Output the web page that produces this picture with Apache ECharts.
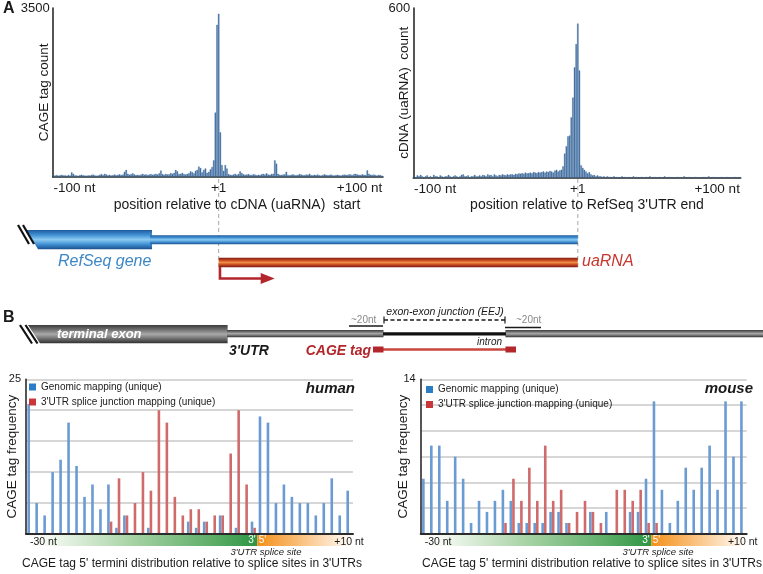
<!DOCTYPE html>
<html><head><meta charset="utf-8">
<script src="https://cdn.jsdelivr.net/npm/echarts@6/dist/echarts.min.js"></script>
<style>html,body{margin:0;padding:0;background:#fff}#c{width:763px;height:574px}</style>
</head><body><div id="c"></div>
<script>
const FONT = 'Liberation Sans, Arial, Helvetica, sans-serif';

// ---------- Panel A data ----------
// positions -100..-1, +1..+100 (200 bins)
const positionsA = [];
for (let p = -100; p <= 100; p++) if (p !== 0) positionsA.push((p > 0 ? '+' : '') + p);
const tickLabelsA = { '-100': '-100 nt', '+1': '+1', '+100': '+100 nt' };

const cageTagCount = [
  30,25,35,20,30,40,25,30,20,35,
  25,90,60,30,25,20,35,40,30,25,
  20,30,25,35,45,30,20,25,40,55,
  35,60,45,30,40,25,35,45,30,40,
  50,35,45,100,140,60,40,55,70,45,
  35,40,30,45,60,40,50,35,45,55,
  40,50,60,45,70,125,55,40,60,45,
  50,75,60,80,140,110,55,60,80,55,
  45,60,70,110,95,70,120,140,210,180,
  90,140,170,80,100,150,200,340,1330,3150,
  3380,920,240,120,240,170,55,40,35,45,
  60,40,55,110,75,50,40,45,55,40,
  35,50,45,30,40,35,50,60,45,70,
  45,40,55,60,340,270,60,40,35,45,
  50,100,35,30,40,50,35,30,40,55,
  45,35,30,45,40,60,35,30,40,35,
  45,30,25,35,50,40,30,35,45,30,
  25,35,40,30,25,35,45,40,35,50,
  45,30,55,60,45,40,35,50,40,35,
  130,60,40,35,45,30,25,40,30,20
];
const cdnaCount = [
  5,0,8,5,10,5,0,5,8,0,
  5,0,10,5,5,0,8,5,0,5,
  5,10,5,0,5,8,5,0,5,10,
  12,5,5,8,0,5,5,10,5,5,
  8,5,10,8,5,12,8,10,5,12,
  8,5,10,8,12,10,8,12,10,12,
  12,10,14,12,15,14,16,14,18,15,
  16,18,15,20,18,16,20,18,20,22,
  18,22,20,24,22,18,25,28,22,26,
  28,40,85,111,146,149,213,283,390,472,
  545,379,44,35,28,22,15,20,12,8,
  10,5,8,5,5,3,5,0,5,3,
  3,0,5,0,3,0,0,5,0,3,
  0,3,0,0,5,0,3,0,0,3,
  0,0,3,0,5,0,0,3,0,0,
  3,0,0,5,0,0,3,0,0,0,
  0,3,0,0,0,5,0,0,3,0,
  0,0,3,0,0,0,0,3,0,0,
  5,0,0,3,0,0,0,0,3,0,
  0,3,0,0,0,0,3,0,0,0
];

// ---------- Panel B data ----------
const positionsB = [];
for (let p = -30; p <= 10; p++) positionsB.push((p > 0 ? '+' : '') + p);
const tickLabelsB = { '-30': '-30 nt', '+10': '+10 nt' };
const spliceIndex = 29; // first category right of the 3'|5' splice boundary

const humanGenomic  = [21,5,3,10,12,18,11,6,8,4,8,1,3,0,0,1,0,0,0,0,2,1,2,0,3,0,1,0,2,19,18,5,8,6,5,5,3,5,9,3,7];
const humanJunction = [0,0,0,0,0,0,0,0,0,0,2,9,3,5,10,7,20,18,6,3,4,4,2,3,3,13,20,8,1,0,0,0,0,0,0,0,0,0,0,0,0];
const mouseGenomic  = [5,8,8,3,7,5,1,3,2,3,4,3,1,1,1,1,2,2,1,0,0,2,0,2,0,0,2,2,5,12,4,1,3,6,4,6,8,4,12,7,12];
const mouseJunction = [0,0,0,0,0,0,0,0,0,0,1,5,3,6,3,8,3,4,1,2,3,2,1,0,4,4,3,4,1,1,0,0,0,0,0,0,0,0,0,0,0];

const NAME_G = 'Genomic mapping (unique)';
const NAME_J = "3'UTR splice junction mapping (unique)";

const chart = echarts.init(document.getElementById('c'), null, { renderer: 'canvas' });

const axisLineDark = { show: true, lineStyle: { color: '#2b2b2b', width: 1.6 } };
const txt = (size, extra) => Object.assign({ fontFamily: FONT, fontSize: size, color: '#1a1a1a' }, extra || {});

const xA = (gridIndex) => ({
  type: 'category', gridIndex, data: positionsA,
  axisLine: axisLineDark, axisTick: { show: false },
  axisLabel: {
    interval: (i, v) => tickLabelsA[v] !== undefined,
    formatter: v => tickLabelsA[v] || '',
    alignMinLabel: 'left', alignMaxLabel: 'right', hideOverlap: false,
    margin: 5, ...txt(13.5)
  },
  splitLine: { show: false }
});
const yA = (gridIndex, max, name, gap) => ({
  type: 'value', gridIndex, min: 0, max, interval: max,
  axisLine: axisLineDark, axisTick: { show: false },
  axisLabel: { formatter: v => (v === max ? String(max) : ''), margin: 3, ...txt(13) },
  splitLine: { show: false },
  name, nameLocation: 'middle', nameGap: gap, nameRotate: 90, nameMoveOverlap: false,
  nameTextStyle: txt(13.5)
});
const xB = (gridIndex) => ({
  type: 'category', gridIndex, data: positionsB,
  axisLine: { show: true, lineStyle: { color: '#2b2b2b', width: 2 } }, axisTick: { show: false },
  axisLabel: {
    interval: (i, v) => tickLabelsB[v] !== undefined,
    formatter: v => tickLabelsB[v] || '',
    alignMinLabel: 'left', hideOverlap: false, margin: 3, ...txt(10.5)
  },
  z: 5
});
const yB = (gridIndex, max, interval, label, gap) => ({
  type: 'value', gridIndex, min: 0, max, interval,
  axisLine: axisLineDark, axisTick: { show: false },
  axisLabel: { formatter: v => (v > max - 0.01 ? label : ''), margin: 5, ...txt(11) },
  splitLine: { show: true, lineStyle: { color: '#c9c9c9', width: 1.5 } },
  name: 'CAGE tag frequency', nameLocation: 'middle', nameGap: gap, nameRotate: 90, nameMoveOverlap: false,
  nameTextStyle: txt(13.5)
});

const histStyle = { color: '#4a78aa', borderColor: '#2e5d8f', borderWidth: 0.3 };
const blueB = '#6a9bd3', redB = '#cf6b6b';

const legendB = (left, top) => ({
  orient: 'vertical', left, top, icon: 'rect', itemWidth: 7, itemHeight: 7, itemGap: 5,
  selectedMode: false, padding: 0,
  textStyle: txt(10),
  data: [{ name: NAME_G, itemStyle: { color: '#2b7cc7' } }, { name: NAME_J, itemStyle: { color: '#c9373b' } }]
});

const gridBase = { outerBoundsMode: 'none', containLabel: false };
chart.setOption({
  animation: false,
  backgroundColor: '#ffffff',
  textStyle: { fontFamily: FONT },
  grid: [
    { ...gridBase, left: 52.7, top: 8, width: 330.3, height: 168.7 },
    { ...gridBase, left: 413.3, top: 8, width: 327.4, height: 169.7 },
    { ...gridBase, left: 26, top: 379.3, width: 327, height: 154.7 },
    { ...gridBase, left: 420.7, top: 379.3, width: 326, height: 154.7 }
  ],
  xAxis: [xA(0), xA(1), xB(2), xB(3)],
  yAxis: [
    yA(0, 3500, 'CAGE tag count', 1),
    yA(1, 600, 'cDNA (uaRNA)  count', 2),
    yB(2, 25, 5, '25', 7),
    yB(3, 14, 14 / 6, '14', 10)
  ],
  title: [
    { text: 'human', right: 763 - 355, top: 381, padding: 0, textStyle: txt(15, { fontWeight: 'bold', fontStyle: 'italic' }) },
    { text: 'mouse', right: 763 - 753, top: 381, padding: 0, textStyle: txt(15, { fontWeight: 'bold', fontStyle: 'italic' }) }
  ],
  legend: [legendB(29, 382), legendB(426, 384.5)],
  series: [
    { type: 'bar', xAxisIndex: 0, yAxisIndex: 0, data: cageTagCount, barCategoryGap: '12%', itemStyle: histStyle },
    { type: 'bar', xAxisIndex: 1, yAxisIndex: 1, data: cdnaCount, barCategoryGap: '12%', itemStyle: histStyle },
    { name: NAME_G, type: 'bar', xAxisIndex: 2, yAxisIndex: 2, data: humanGenomic, barWidth: 2.6, barGap: '0%', itemStyle: { color: blueB } },
    { name: NAME_J, type: 'bar', xAxisIndex: 2, yAxisIndex: 2, data: humanJunction, barWidth: 2.6, barGap: '0%', itemStyle: { color: redB } },
    { name: NAME_G, type: 'bar', xAxisIndex: 3, yAxisIndex: 3, data: mouseGenomic, barWidth: 2.6, barGap: '0%', itemStyle: { color: blueB } },
    { name: NAME_J, type: 'bar', xAxisIndex: 3, yAxisIndex: 3, data: mouseJunction, barWidth: 2.6, barGap: '0%', itemStyle: { color: redB } }
  ]
});

// ---------- decorations / schematics ----------
const G = [];
const T = (x, y, text, font, fill, align, extra) => G.push(Object.assign({
  type: 'text', x, y, z: 20,
  style: { text, font: font + ' ' + FONT.split(',')[0], fill: fill || '#1a1a1a', align: align || 'left', verticalAlign: 'middle' }
}, extra || {}));
const lg = (stops) => new echarts.graphic.LinearGradient(0, 0, 0, 1, stops.map((c, i) => ({ offset: i / (stops.length - 1), color: c })));
const lgx = (stops) => new echarts.graphic.LinearGradient(0, 0, 1, 0, stops.map(s => ({ offset: s[0], color: s[1] })));

T(3, 9, 'A', 'bold 16px');
T(3, 318, 'B', 'bold 16px');

// axis titles in panel A
T(237, 205, 'position relative to cDNA (uaRNA)  start', '14px', null, 'center');
T(587, 205, "position relative to RefSeq 3'UTR end", '14px', null, 'center');

// dashed connectors from +1 ticks
const x1L = chart.convertToPixel({ xAxisIndex: 0 }, '+1');
const x1R = chart.convertToPixel({ xAxisIndex: 1 }, '+1');
[x1L, x1R].forEach(x => G.push({ type: 'line', z: 1, shape: { x1: x, y1: 179, x2: x, y2: 268 }, style: { stroke: '#a8a8a8', lineWidth: 1, lineDash: [4, 3] } }));

// RefSeq gene / uaRNA schematic
const blueStops = ['#1f5a9e', '#3f8fd2', '#8ccaf2', '#3f8fd2', '#1b4f8d'];
G.push({ type: 'polygon', z: 5, shape: { points: [[26, 230], [152, 230], [152, 249.3], [38, 249.3]] }, style: { fill: lg(blueStops) } });
G.push({ type: 'rect', z: 5, shape: { x: 150, y: 235.3, width: x1R - 150, height: 9 }, style: { fill: lg(blueStops) } });
G.push({ type: 'rect', z: 5, shape: { x: x1L, y: 257.7, width: x1R - x1L, height: 9.6 }, style: { fill: lg(['#7d1a10', '#c0441d', '#f08a45', '#c0441d', '#7a1710']) } });
G.push({ type: 'line', z: 6, shape: { x1: 18, y1: 225, x2: 29, y2: 244 }, style: { stroke: '#111', lineWidth: 2.2 } });
G.push({ type: 'line', z: 6, shape: { x1: 23, y1: 225, x2: 34, y2: 244 }, style: { stroke: '#111', lineWidth: 2.2 } });
G.push({ type: 'polyline', z: 6, shape: { points: [[x1L + 1.3, 267], [x1L + 1.3, 278.5], [x1L + 44, 278.5]] }, style: { stroke: '#b3262b', lineWidth: 2.6, fill: null } });
G.push({ type: 'polygon', z: 6, shape: { points: [[x1L + 42, 273], [x1L + 56, 278.5], [x1L + 42, 284]] }, style: { fill: '#b3262b' } });
T(58, 262, 'RefSeq gene', 'italic 16px', '#3d86c6');
T(582, 262, 'uaRNA', 'italic 16px', '#c7362f');

// Panel B schematic
const grayStops = ['#3c3c3c', '#6f6f6f', '#a9a9a9', '#6f6f6f', '#2f2f2f'];
G.push({ type: 'polygon', z: 5, shape: { points: [[28, 325], [227.6, 325], [227.6, 343.3], [40, 343.3]] }, style: { fill: lg(grayStops) } });
G.push({ type: 'rect', z: 5, shape: { x: 227, y: 330, width: 156.5, height: 7.3 }, style: { fill: lg(grayStops) } });
G.push({ type: 'rect', z: 5, shape: { x: 505.4, y: 330, width: 258, height: 7.3 }, style: { fill: lg(grayStops) } });
G.push({ type: 'rect', z: 5, shape: { x: 383, y: 332.3, width: 123, height: 3.2 }, style: { fill: '#111' } });
G.push({ type: 'line', z: 6, shape: { x1: 20, y1: 325, x2: 32, y2: 343.5 }, style: { stroke: '#111', lineWidth: 2.2 } });
G.push({ type: 'line', z: 6, shape: { x1: 25.5, y1: 325, x2: 37.5, y2: 343.5 }, style: { stroke: '#111', lineWidth: 2.2 } });
T(57, 334.5, 'terminal exon', 'italic bold 13px', '#ffffff');
T(229, 351, "3'UTR", 'italic bold 14px', '#1a1a1a');
T(371, 351, 'CAGE tag', 'italic bold 14px', '#b3262b', 'right');
G.push({ type: 'rect', z: 5, shape: { x: 373, y: 348.2, width: 143, height: 2.6 }, style: { fill: '#c9473f' } });
G.push({ type: 'rect', z: 5, shape: { x: 373, y: 346.5, width: 10.5, height: 6 }, style: { fill: '#b3262b' } });
G.push({ type: 'rect', z: 5, shape: { x: 505.5, y: 346.5, width: 10.5, height: 6 }, style: { fill: '#b3262b' } });
T(502, 342, 'intron', 'italic 10px', '#1a1a1a', 'right');
T(445, 312.5, 'exon-exon junction (EEJ)', 'italic 10.5px', '#1a1a1a', 'center');
G.push({ type: 'line', z: 6, shape: { x1: 384, y1: 320, x2: 505, y2: 320 }, style: { stroke: '#1a1a1a', lineWidth: 1.5, lineDash: [4, 2.5] } });
G.push({ type: 'line', z: 6, shape: { x1: 384, y1: 316.5, x2: 384, y2: 323.5 }, style: { stroke: '#1a1a1a', lineWidth: 1.2 } });
G.push({ type: 'line', z: 6, shape: { x1: 505, y1: 316.5, x2: 505, y2: 323.5 }, style: { stroke: '#1a1a1a', lineWidth: 1.2 } });
T(351, 320.5, '~20nt', '10px', '#8a8a8a');
T(516, 320.5, '~20nt', '10px', '#8a8a8a');
G.push({ type: 'line', z: 6, shape: { x1: 349, y1: 326, x2: 383, y2: 326 }, style: { stroke: '#1a1a1a', lineWidth: 1.3 } });
G.push({ type: 'line', z: 6, shape: { x1: 505, y1: 327.5, x2: 541, y2: 327.5 }, style: { stroke: '#1a1a1a', lineWidth: 1.3 } });

// gradient strips under the splice charts
function strip(xAxisIndex, gridLeft, gridRight, labelCx, titleCx) {
  const b = chart.convertToPixel({ xAxisIndex }, positionsB[spliceIndex]) - 4;
  const y0 = 535, h = 11;
  G.push({ type: 'rect', z: 2, shape: { x: gridLeft, y: y0, width: b - gridLeft, height: h },
    style: { fill: lgx([[0, '#ffffff'], [0.1, '#f4f9f2'], [0.45, '#a9d4a6'], [0.8, '#5fae69'], [1, '#2d9543']]) } });
  G.push({ type: 'rect', z: 2, shape: { x: b, y: y0, width: gridRight - b, height: h },
    style: { fill: lgx([[0, '#f4901a'], [0.35, '#f8b565'], [0.75, '#fde2c3'], [1, '#ffffff']]) } });
  T(b - 1.5, 540.5, "3'", '10px', '#ffffff', 'right');
  T(b + 1.5, 540.5, "5'", '10px', '#ffffff', 'left');
  T(labelCx, 552, "3'UTR splice site", 'italic 9.5px', '#1a1a1a', 'center');
  T(titleCx, 564, "CAGE tag 5' termini distribution relative to splice sites in 3'UTRs", '12px', '#1a1a1a', 'center');
}
strip(2, 26, 353, 266, 192);
strip(3, 420.7, 746.7, 658, 592);

chart.setOption({ graphic: { elements: G } });
</script>
</body></html>
